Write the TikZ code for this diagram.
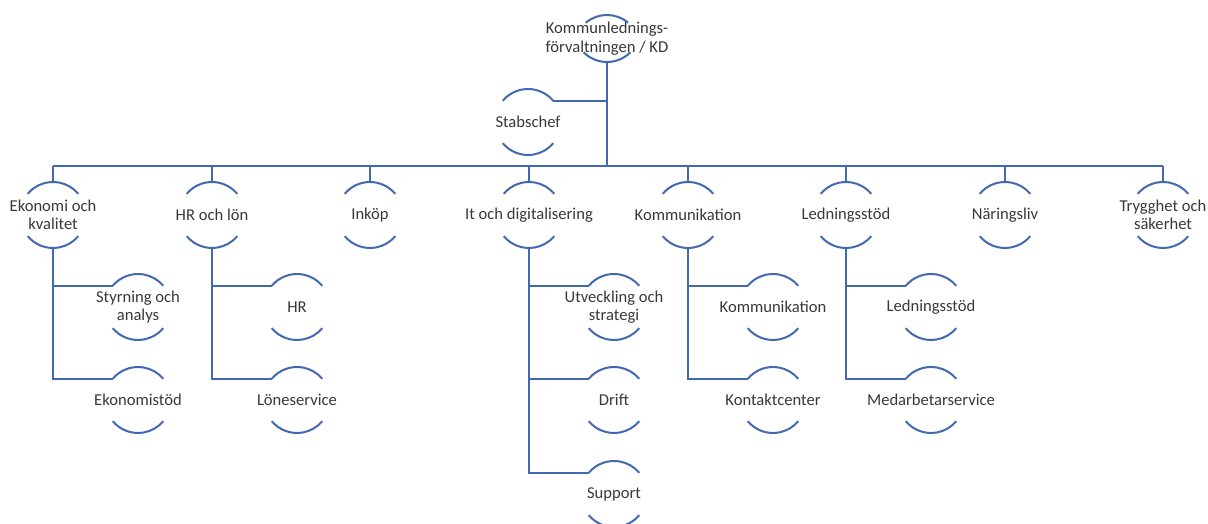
\documentclass[tikz,border=0pt]{standalone}
\usepackage{fontspec}
\setmainfont{Carlito}
\definecolor{ln}{RGB}{66,104,176}
\definecolor{tx}{RGB}{56,56,56}
\tikzset{
  conn/.style={draw=ln,line width=2pt},
  arcline/.style={draw=ln,line width=2pt},
  txt/.style={inner sep=0pt,align=center,text=tx,font=\fontsize{16.6}{18.5}\selectfont}
}
\newcommand\orgbox[4]{%
  \node[txt] (#1) at (#2,#3) {#4};
  \coordinate (#1-t) at (#2,#3+33);
  \coordinate (#1-b) at (#2,#3-33);
  \coordinate (#1-tl) at (#2-25.28,#3+21.21);
  \coordinate (#1-tr) at (#2+25.28,#3+21.21);
  \coordinate (#1-bl) at (#2-25.28,#3-21.21);
  \draw[arcline] (#1-tl) arc[start angle=140,end angle=40,radius=33pt];
  \draw[arcline] (#1-bl) arc[start angle=220,end angle=320,radius=33pt];
}
\begin{document}
\begin{tikzpicture}[x=1pt,y=1pt]
\useasboundingbox (0,0) rectangle (1208,524);
% root
\node[txt] (root) at (607,485.5) {Kommunlednings-\\förvaltningen / KD};
\coordinate (root-tl) at (607-21.21,476+25.28);
\coordinate (root-bl) at (607-23.33,495-23.33);
\coordinate (root-b) at (607,462);
\draw[arcline] (root-tl) arc[start angle=130,end angle=50,radius=33pt];
\draw[arcline] (root-bl) arc[start angle=225,end angle=315,radius=33pt];
% stabschef
\orgbox{stab}{528}{402}{Stabschef}
% level 1
\orgbox{eko}{53}{309}{Ekonomi och\\kvalitet}
\orgbox{hr}{212}{309}{HR och lön}
\orgbox{ink}{370}{309}{Inköp}
\orgbox{it}{529}{309}{It och digitalisering}
\orgbox{kom}{688}{309}{Kommunikation}
\orgbox{led}{846}{309}{Ledningsstöd}
\orgbox{nar}{1005}{309}{Näringsliv}
\orgbox{try}{1163}{309}{Trygghet och\\säkerhet}
% level 2
\orgbox{sty}{138}{217}{Styrning och\\analys}
\orgbox{ekst}{138}{124}{Ekonomistöd}
\orgbox{hrc}{297}{217}{HR}
\orgbox{lon}{297}{124}{Löneservice}
\orgbox{utv}{614}{217}{Utveckling och\\strategi}
\orgbox{dri}{614}{124}{Drift}
\orgbox{sup}{614}{30}{Support}
\orgbox{komc}{773}{217}{Kommunikation}
\orgbox{kon}{773}{124}{Kontaktcenter}
\orgbox{ledc}{931}{217}{Ledningsstöd}
\orgbox{med}{931}{124}{Medarbetarservice}
% bus
\coordinate (bus) at (607,358);
\draw[conn] (root-b) -- (root-b |- bus);
\draw[conn] (stab-tr) -- (stab-tr -| root-b);
\draw[conn] (eko-t |- bus) -- (try-t |- bus);
\foreach \n in {eko,hr,ink,it,kom,led,nar,try}{
  \draw[conn] (\n-t) -- (\n-t |- bus);
}
% children
\draw[conn] (eko-b) |- (sty-tl);
\draw[conn] (eko-b) |- (ekst-tl);
\draw[conn] (hr-b) |- (hrc-tl);
\draw[conn] (hr-b) |- (lon-tl);
\draw[conn] (it-b) |- (utv-tl);
\draw[conn] (it-b) |- (dri-tl);
\draw[conn] (it-b) |- (sup-tl);
\draw[conn] (kom-b) |- (komc-tl);
\draw[conn] (kom-b) |- (kon-tl);
\draw[conn] (led-b) |- (ledc-tl);
\draw[conn] (led-b) |- (med-tl);
\end{tikzpicture}
\end{document}
